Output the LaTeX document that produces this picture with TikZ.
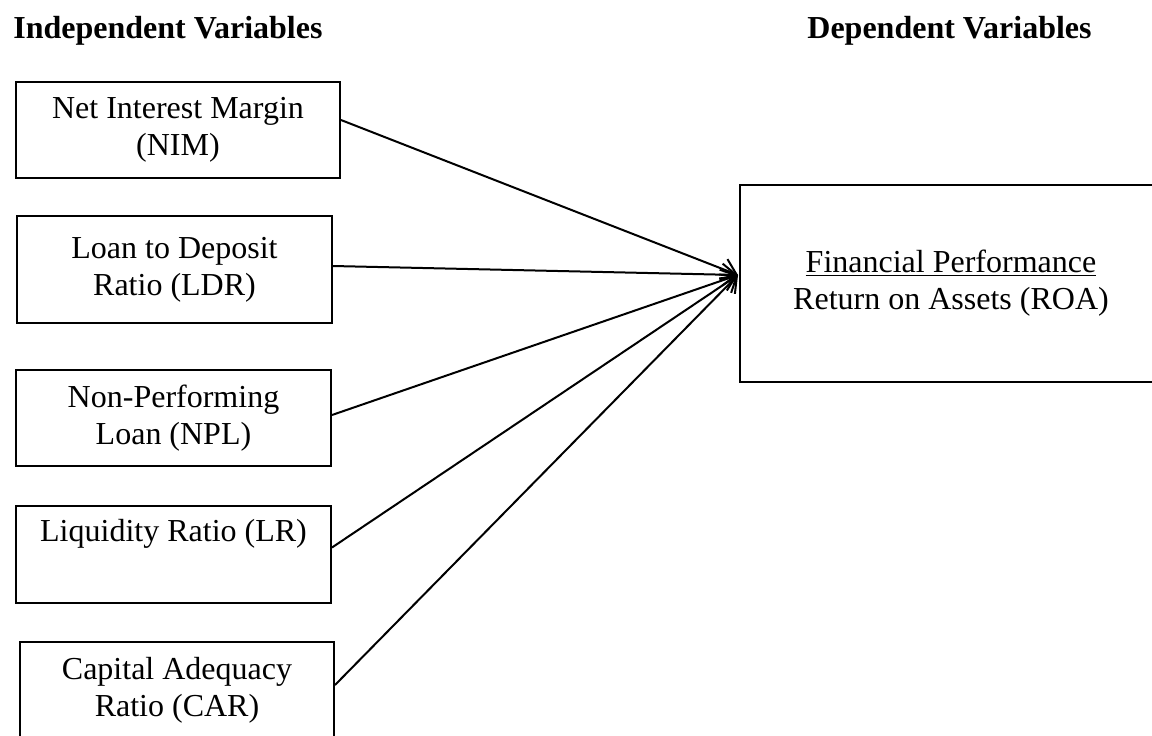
\documentclass[tikz,border=0pt]{standalone}
\usepackage{fontspec}
\setmainfont{Liberation Serif}
\usetikzlibrary{arrows.meta,calc}
\begin{document}
\begin{tikzpicture}[x=0.5pt,y=-0.5pt,
  font=\fontsize{16}{18.5}\selectfont,
  varbox/.style={draw,line width=1pt,inner sep=0pt,align=center,rectangle},
  hdr/.style={anchor=base west,inner sep=0pt,font=\fontsize{16}{18.5}\selectfont\bfseries},
  link/.style={line width=1pt,-{Straight Barb[length=7pt,width=11pt,line width=1pt]}}]
\useasboundingbox (0,0) rectangle (1152,735);
\node[hdr] (hi) at (13,38) {Independent Variables};
\node[hdr] (hd) at (807,38) {Dependent Variables};
\node[varbox,minimum width=162pt,minimum height=48pt] (nim) at (178,129.5) {Net Interest Margin\\(NIM)};
\node[varbox,minimum width=157.5pt,minimum height=53.8pt] (ldr) at (174.5,269.5) {Loan to Deposit\\Ratio (LDR)};
\node[varbox,minimum width=157.5pt,minimum height=48pt] (npl) at (173.5,418) {Non-Performing\\Loan (NPL)};
\node[varbox,minimum width=157.5pt,minimum height=48.5pt] (lr) at (173.5,554.5) {Liquidity Ratio (LR)\\\strut};
\node[varbox,minimum width=157pt,minimum height=48pt] (car) at (177,690) {Capital Adequacy\\Ratio (CAR)};
\node[varbox,minimum width=211pt,minimum height=98.3pt] (roa) at (951,283.4) {\underline{Financial Performance}\\Return on Assets (ROA)};
\coordinate (tip) at ([xshift=-0.5pt,yshift=4.2pt]roa.west);
\draw[link] ([yshift=4.75pt]nim.east) -- (tip);
\draw[link] ([yshift=1.75pt]ldr.east) -- (tip);
\draw[link] ([yshift=1.5pt]npl.east) -- (tip);
\draw[link] ([yshift=3.5pt]lr.east) -- (tip);
\draw[link] ([yshift=2.5pt]car.east) -- (tip);
\end{tikzpicture}
\end{document}
